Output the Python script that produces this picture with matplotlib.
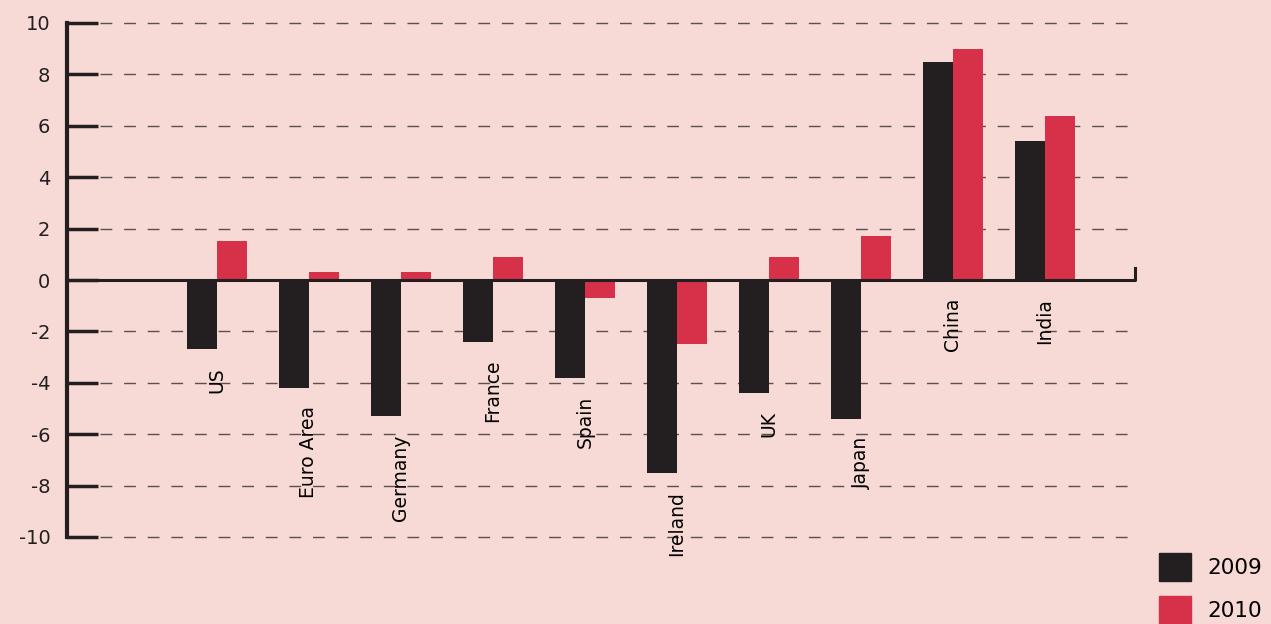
import numpy as np
import matplotlib
matplotlib.use("Agg")
import matplotlib.pyplot as plt
import matplotlib.transforms as mtransforms
from matplotlib.patches import Patch

# data
countries = ["US", "Euro Area", "Germany", "France", "Spain",
             "Ireland", "UK", "Japan", "China", "India"]
gdp_2009 = [-2.7, -4.2, -5.3, -2.4, -3.8, -7.5, -4.4, -5.4, 8.5, 5.4]
gdp_2010 = [1.5, 0.3, 0.3, 0.9, -0.7, -2.5, 0.9, 1.7, 9.0, 6.4]
yticks = [-10, -8, -6, -4, -2, 0, 2, 4, 6, 8, 10]

BG = "#F7DAD5"
DARK = "#231F20"
RED = "#D7314A"

fig = plt.figure(figsize=(12.71, 6.24), dpi=100)
fig.patch.set_facecolor(BG)
ax = fig.add_axes([67 / 1271, 1 - 537 / 624, (1137 - 67) / 1271, (537 - 23) / 624])
ax.set_facecolor(BG)

x = np.arange(len(countries))
w = 0.326
ax.bar(x - w / 2, gdp_2009, w, color=DARK, zorder=3, label="2009")
ax.bar(x + w / 2, gdp_2010, w, color=RED, zorder=3, label="2010")

ax.set_xlim(-1.63, 10.0)
ax.set_ylim(-10, 10)

# dashed grid starting after the tick marks
gx0 = (100 - 67) / (1137 - 67)
ax.hlines(yticks, gx0, 1.0, transform=ax.get_yaxis_transform(),
          colors="#5a5050", linewidth=1.0, linestyles=(0, (8.5, 8.5)),
          zorder=1, clip_on=False)

# zero line with small end tick
trans = mtransforms.blended_transform_factory(ax.transAxes, ax.transData)
ax.plot([0, 0.998, 0.998], [0, 0, 0.45], transform=trans,
        color=DARK, lw=2.2, zorder=4, clip_on=False)

for s in ["top", "right", "bottom"]:
    ax.spines[s].set_visible(False)
ax.spines["left"].set_linewidth(3)
ax.spines["left"].set_color(DARK)

ax.set_xticks([])
ax.set_yticks(yticks)
ax.set_yticklabels([str(t) for t in yticks], fontsize=14, color=DARK)
ax.tick_params(axis="y", direction="in", length=22, width=2.5, color=DARK, pad=12)

# category labels below the lowest bar of each group
for i, name in enumerate(countries):
    low = min(gdp_2009[i], gdp_2010[i], 0)
    ax.annotate(name, (x[i], low), xytext=(0, -13), textcoords="offset points",
                rotation=90, ha="center", va="top", fontsize=13.5, color="black")

handles = [Patch(color=DARK, label="2009"), Patch(color=RED, label="2010")]
fig.legend(handles=handles, loc="lower left", bbox_to_anchor=(1140 / 1271, -0.03),
           frameon=False, fontsize=15.5, handlelength=1.45, handleheight=1.6,
           labelspacing=0.7, handletextpad=0.8)

fig.savefig("out.png", dpi=100, facecolor=BG)
